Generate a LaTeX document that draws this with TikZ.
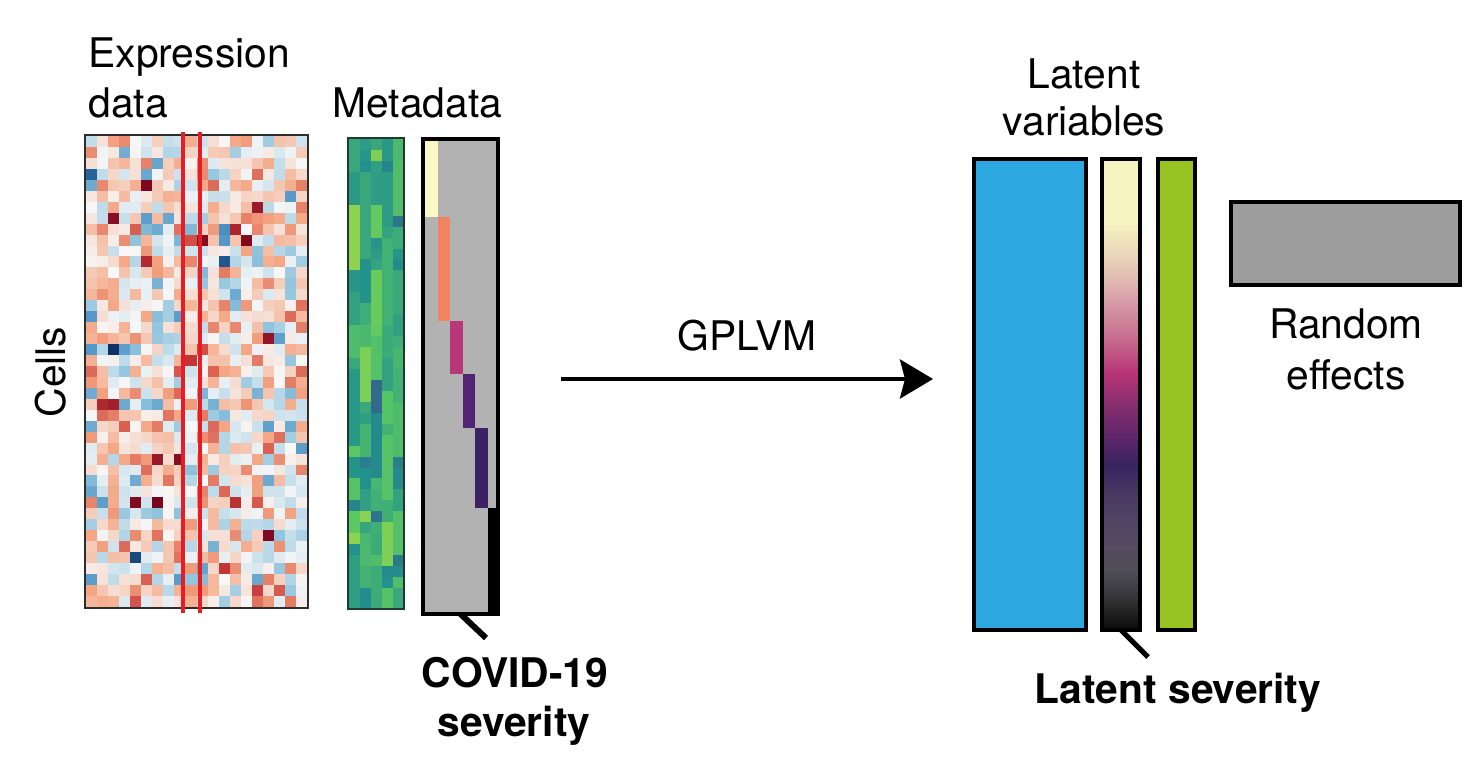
\documentclass[tikz,border=0pt]{standalone}
\usepackage{fontspec}
\setmainfont{TeX Gyre Heros}
\usetikzlibrary{arrows.meta}

\definecolor{rdwhite}{RGB}{247,247,247}
\definecolor{rdlight}{RGB}{244,165,130}
\definecolor{rddark}{RGB}{200,55,55}
\definecolor{rdblack}{RGB}{120,5,30}
\definecolor{bulight}{RGB}{146,197,222}
\definecolor{budark}{RGB}{50,125,185}
\definecolor{bublack}{RGB}{15,50,105}
\definecolor{vira}{RGB}{68,1,84}
\definecolor{virb}{RGB}{59,82,139}
\definecolor{virc}{RGB}{33,145,140}
\definecolor{vird}{RGB}{94,201,98}
\definecolor{vire}{RGB}{253,231,37}
\definecolor{sevgray}{RGB}{178,178,178}
\definecolor{sevA}{RGB}{250,248,197}
\definecolor{sevB}{RGB}{240,132,98}
\definecolor{sevC}{RGB}{183,55,121}
\definecolor{sevD}{RGB}{83,36,115}
\definecolor{sevE}{RGB}{60,34,100}
\definecolor{latblue}{RGB}{46,168,224}
\definecolor{latgreen}{RGB}{150,194,34}
\definecolor{randgray}{RGB}{157,157,157}
\definecolor{selred}{RGB}{232,28,36}
\definecolor{mapframe}{RGB}{45,45,45}
\definecolor{metaframe}{RGB}{30,60,45}
\definecolor{lsA}{RGB}{10,10,10}
\definecolor{lsB}{RGB}{50,50,52}
\definecolor{lsC}{RGB}{80,78,88}
\definecolor{lsD}{RGB}{85,75,100}
\definecolor{lsE}{RGB}{75,58,100}
\definecolor{lsF}{RGB}{55,35,95}
\definecolor{lsG}{RGB}{90,38,105}
\definecolor{lsH}{RGB}{130,45,110}
\definecolor{lsI}{RGB}{183,52,120}
\definecolor{lsJ}{RGB}{198,105,140}
\definecolor{lsK}{RGB}{212,150,165}
\definecolor{lsL}{RGB}{226,190,180}
\definecolor{lsM}{RGB}{236,218,186}
\definecolor{lsN}{RGB}{246,245,193}

\pgfdeclareverticalshading{latsev}{100bp}{color(0bp)=(lsA); color(25bp)=(lsA);
  color(28.2bp)=(lsB); color(31.4bp)=(lsC); color(34.5bp)=(lsD); color(39.3bp)=(lsE);
  color(42.5bp)=(lsF); color(45.1bp)=(lsG); color(48.6bp)=(lsH); color(52.3bp)=(lsI);
  color(55.7bp)=(lsJ); color(59.4bp)=(lsK); color(62.6bp)=(lsL); color(65.3bp)=(lsM);
  color(68.6bp)=(lsN); color(100bp)=(lsN)}

% red-blue colour for a value in -1.5..1.5
\newcommand{\setrdbu}[1]{%
  \pgfmathsetmacro\cva{min(abs(#1)*200,100)}%
  \pgfmathsetmacro\cvb{min(max(abs(#1)*200-100,0),100)}%
  \pgfmathsetmacro\cvc{min(max(abs(#1)*300-300,0),100)}%
  \ifdim #1pt>0pt
    \colorlet{cellc}{rdlight!\cva!rdwhite}\colorlet{cellc}{rddark!\cvb!cellc}%
    \colorlet{cellc}{rdblack!\cvc!cellc}%
  \else
    \colorlet{cellc}{bulight!\cva!rdwhite}\colorlet{cellc}{budark!\cvb!cellc}%
    \colorlet{cellc}{bublack!\cvc!cellc}%
  \fi}

% viridis colour for a value in 0..1
\newcommand{\setvir}[1]{%
  \ifdim #1pt<0.25pt
    \pgfmathsetmacro\cvt{#1*400}\colorlet{cellc}{virb!\cvt!vira}%
  \else\ifdim #1pt<0.5pt
    \pgfmathsetmacro\cvt{(#1-0.25)*400}\colorlet{cellc}{virc!\cvt!virb}%
  \else\ifdim #1pt<0.75pt
    \pgfmathsetmacro\cvt{(#1-0.5)*400}\colorlet{cellc}{vird!\cvt!virc}%
  \else
    \pgfmathsetmacro\cvt{min((#1-0.75)*400,100)}\colorlet{cellc}{vire!\cvt!vird}%
  \fi\fi\fi}

\begin{document}
\begin{tikzpicture}[
    x=0.5pt, y=-0.5pt,
    box/.style={draw, line width=2pt, inner sep=0pt, outer sep=0pt},
    txt/.style={font=\fontsize{20.4}{25}\selectfont, inner sep=0pt},
    bold txt/.style={font=\fontsize{20.4}{25}\selectfont\bfseries, inner sep=0pt},
    pointer/.style={line width=3pt},
    >={Stealth[length=16.5pt, width=19.5pt, inset=2.5pt]}
]
    \useasboundingbox (0,0) rectangle (1484,767);

    % Expression data
    \pgfmathsetseed{4711}
    \foreach \c in {0,...,19}{
        \foreach \r in {0,...,42}{
            \pgfmathsetmacro\hv{rnd<0.025 ? (rnd<0.55 ? 1 : -1)*(1.0+0.35*rnd) : 0.74*(rnd+rnd+rnd-1.5)+0.06}
            \setrdbu{\hv}
            \fill[cellc] ({86+\c*11.05},{136+\r*10.95}) rectangle ++(11.3,11.2);
        }
    }
    \draw[mapframe, line width=1pt] (85,135) rectangle (308,608);
    \draw[selred, line width=2pt] (183,132) -- (183,613);
    \draw[selred, line width=2pt] (200,132) -- (200,613);
    \node[txt, anchor=base west] (exprA) at (88,67) {Expression};
    \node[txt, anchor=base west] (exprB) at (88,117) {data};
    \node[txt, anchor=base, rotate=90] (cells) at (65,372) {Cells};

    % Metadata
    \foreach \c in {0,...,4}{
        \xdef\prevw{0.6}
        \foreach \r in {0,...,42}{
            \pgfmathsetmacro\mw{rnd<0.55 ? \prevw : max(0,min(1,0.59+0.2*(rnd+rnd+rnd-1.5)))}
            \xdef\prevw{\mw}
            \setvir{\mw}
            \fill[cellc] ({349+\c*11},{139+\r*10.95}) rectangle ++(11.3,11.2);
        }
    }
    \draw[metaframe, line width=1pt] (348,138) rectangle (404,609);
    \node[txt, anchor=base west] (meta) at (332,117) {Metadata};

    % COVID-19 severity
    \node[box, fill=sevgray, minimum width=37.5pt, minimum height=237.5pt] (sevbox) at (460.5,376.5) {};
    \foreach \col/\x/\ya/\yb in {sevA/425/141/217, sevB/437.5/217/321, sevC/450/321/374,
                                 sevD/462.5/374/428, sevE/475/428/508, black/487.5/508/612}
        \fill[\col] (\x,\ya) rectangle ({\x+12.5},\yb);
    \coordinate (sevtip) at (486,638);
    \draw[pointer] (sevbox.south) -- (sevtip);
    \node[bold txt, anchor=base] (covidA) at (515,687) {COVID-19};
    \node[bold txt, anchor=base] (covidB) at (514,736) {severity};

    % GPLVM
    \coordinate (arrstart) at (561,379);
    \coordinate (arrend) at (933,379);
    \draw[->, line width=2pt] (arrstart) -- (arrend);
    \node[txt, anchor=base] (gplvm) at (747,350) {GPLVM};

    % Latent variables
    \node[box, fill=latblue, minimum width=56pt, minimum height=235.5pt] (latblue) at (1030,394.5) {};
    \node[box, shade, shading=latsev, minimum width=19pt, minimum height=235.5pt] (latbar) at (1121,394.5) {};
    \node[box, fill=latgreen, minimum width=18.5pt, minimum height=235.5pt] (latgreen) at (1176.5,394.5) {};
    \node[txt, anchor=base] (latA) at (1084,88) {Latent};
    \node[txt, anchor=base] (latB) at (1084,135) {variables};
    \coordinate (lattip) at (1148,657);
    \draw[pointer, line width=2.5pt] (latbar.south) -- (lattip);
    \node[bold txt, anchor=base] (latsev) at (1178,703) {Latent severity};

    % Random effects
    \node[box, fill=randgray, minimum width=114.5pt, minimum height=41.5pt] (randbox) at (1345.5,243.5) {};
    \node[txt, anchor=base] (randA) at (1346,338) {Random};
    \node[txt, anchor=base] (randB) at (1346,389) {effects};
\end{tikzpicture}
\end{document}
